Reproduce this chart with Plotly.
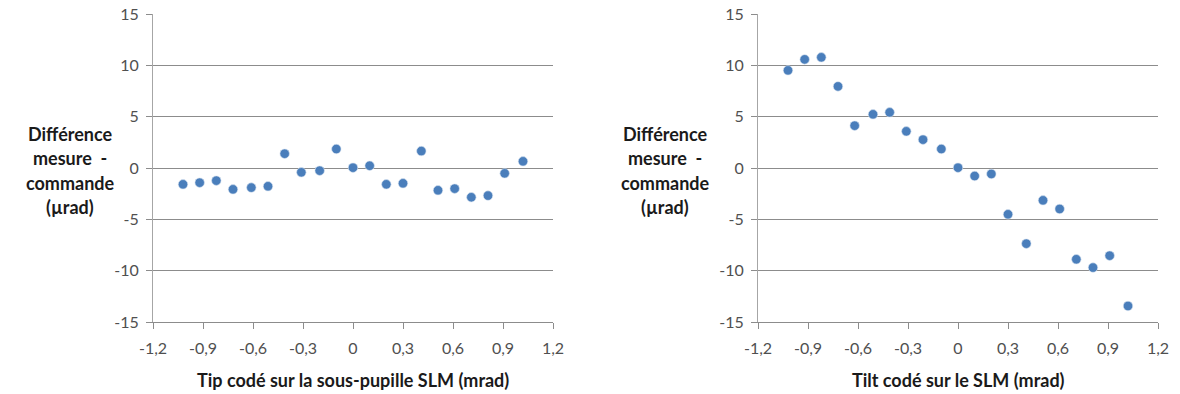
import plotly.graph_objects as go

# Data
x_tip = [-1.02, -0.92, -0.82, -0.72, -0.61, -0.51, -0.41, -0.31, -0.20, -0.10,
         0.0, 0.10, 0.20, 0.30, 0.41, 0.51, 0.61, 0.71, 0.81, 0.91, 1.02]
y_tip = [-1.59, -1.43, -1.23, -2.08, -1.91, -1.78, 1.39, -0.42, -0.26, 1.85,
         0.03, 0.22, -1.59, -1.49, 1.65, -2.17, -2.01, -2.85, -2.69, -0.52, 0.65]

x_tilt = [-1.02, -0.92, -0.82, -0.72, -0.62, -0.51, -0.41, -0.31, -0.21, -0.10,
          0.0, 0.10, 0.20, 0.30, 0.41, 0.51, 0.61, 0.71, 0.81, 0.91, 1.02]
y_tilt = [9.51, 10.58, 10.78, 7.95, 4.12, 5.23, 5.42, 3.57, 2.76, 1.85,
          0.03, -0.78, -0.58, -4.51, -7.37, -3.15, -3.99, -8.89, -9.70, -8.54, -13.44]

x_ticks = [-1.2, -0.9, -0.6, -0.3, 0, 0.3, 0.6, 0.9, 1.2]
x_ticktext = ["-1,2", "-0,9", "-0,6", "-0,3", "0", "0,3", "0,6", "0,9", "1,2"]
y_ticks = [-15, -10, -5, 0, 5, 10, 15]
y_ticktext = ["-15", "-10", "-5", "0", "5", "10", "15"]

x_title_left = "Tip codé sur la sous-pupille SLM (mrad)"
x_title_right = "Tilt codé sur le SLM (mrad)"
y_title_lines = ["Différence", "mesure  -", "commande", "(µrad)"]

W, H = 1180, 394
FONT = "Lato, 'Open Sans', sans-serif"
TICKCOL = "#505050"
GRID = "#8c8c8c"
MARK = "#4a7ebb"

fig = go.Figure()
fig.add_trace(go.Scatter(x=x_tip, y=y_tip, mode="markers", xaxis="x", yaxis="y",
                         marker=dict(size=9.5, color=MARK, line=dict(width=0.6, color="#dce6f2")),
                         showlegend=False))
fig.add_trace(go.Scatter(x=x_tilt, y=y_tilt, mode="markers", xaxis="x2", yaxis="y2",
                         marker=dict(size=9.5, color=MARK, line=dict(width=0.6, color="#dce6f2")),
                         showlegend=False))

ybot = (H - 322) / H
ytop = (H - 14) / H

def xaxis(dom, anchor):
    return dict(domain=dom, anchor=anchor, range=[-1.2, 1.2], tickvals=x_ticks,
                ticktext=x_ticktext, showgrid=False, zeroline=False,
                showline=True, linecolor=GRID, linewidth=1,
                ticks="outside", ticklen=6, tickcolor=GRID, automargin=False,
                ticklabelstandoff=6,
                tickfont=dict(family=FONT, size=16, color=TICKCOL), fixedrange=True)

def yaxis(anchor):
    return dict(domain=[ybot, ytop], anchor=anchor, range=[-15, 15], tickvals=y_ticks,
                ticktext=y_ticktext,
                showgrid=True, gridcolor=GRID, gridwidth=1, zeroline=False,
                showline=True, linecolor="#a6a6a6", linewidth=1,
                ticks="outside", ticklen=6, tickcolor=GRID, automargin=False,
                ticklabelstandoff=4,
                tickfont=dict(family=FONT, size=16, color=TICKCOL), fixedrange=True)

annotations = []
for cx, t in [(353, x_title_left), (958, x_title_right)]:
    annotations.append(dict(text="<b>%s</b>" % t, x=cx / W, y=(H - 380) / H,
                            xref="paper", yref="paper", showarrow=False,
                            xanchor="center", yanchor="middle",
                            font=dict(family=FONT, size=18, color="#1a1a1a")))
line_ys = [134, 158, 183, 207]
for cx in [70, 665]:
    for ly, t in zip(line_ys, y_title_lines):
        annotations.append(dict(text="<b>%s</b>" % t, x=cx / W, y=(H - ly) / H,
                                xref="paper", yref="paper", showarrow=False,
                                xanchor="center", yanchor="middle",
                                font=dict(family=FONT, size=18, color="#1a1a1a")))

fig.update_layout(
    width=W, height=H,
    margin=dict(l=0, r=0, t=0, b=0),
    paper_bgcolor="white", plot_bgcolor="white",
    xaxis=xaxis([153 / W, 553 / W], "y"),
    yaxis=yaxis("x"),
    xaxis2=xaxis([758 / W, 1158 / W], "y2"),
    yaxis2=yaxis("x2"),
    annotations=annotations,
)

fig.write_html("out.html", config={"displayModeBar": False},
               post_script="document.body.style.margin='0';document.body.style.overflow='hidden';")
